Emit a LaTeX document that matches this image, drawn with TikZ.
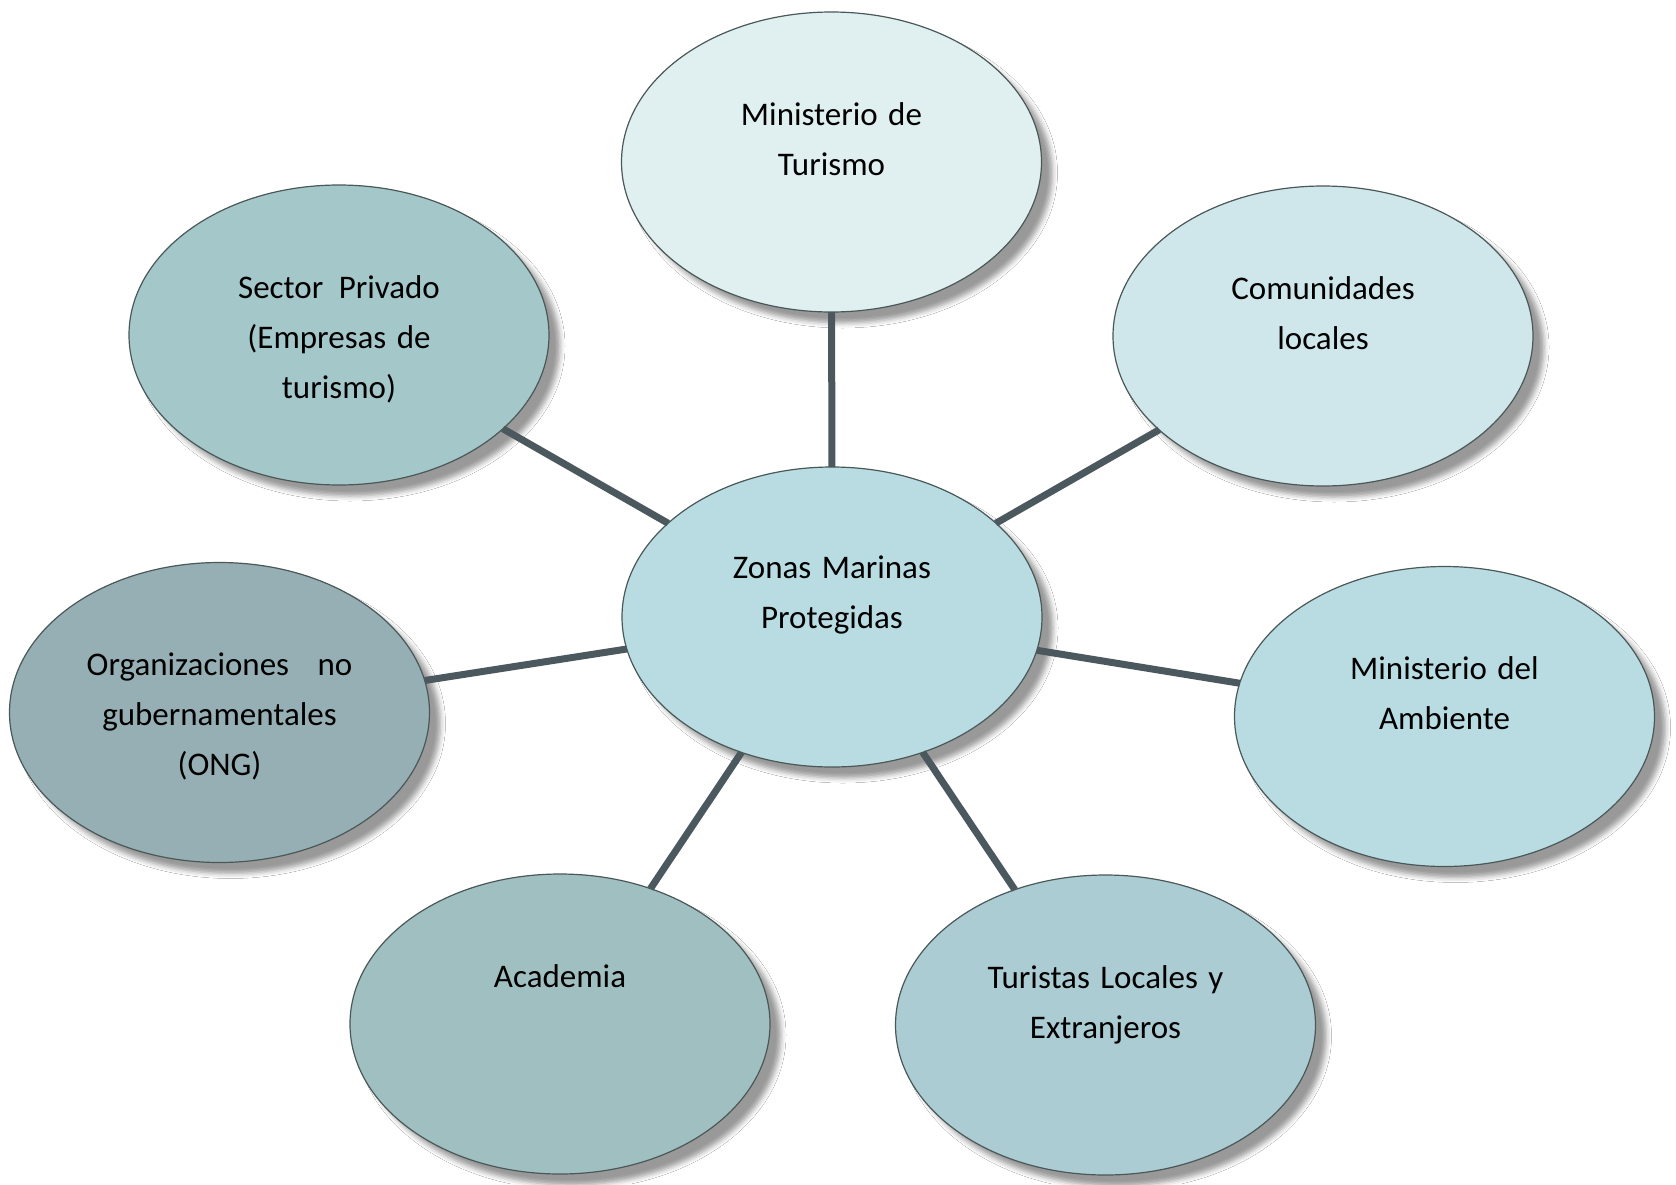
\documentclass[tikz,border=0pt]{standalone}
\usepackage{fontspec}
\setmainfont{Carlito}[WordSpace=1.4]
\usetikzlibrary{shapes.geometric,shadows.blur}
\definecolor{edgec}{HTML}{4A5858}
\definecolor{linkc}{HTML}{4B585E}
\definecolor{cmt}{HTML}{E0F0F1}
\definecolor{ccl}{HTML}{CFE6EB}
\definecolor{czmp}{HTML}{B8DCE2}
\definecolor{cma}{HTML}{B8DCE2}
\definecolor{ctu}{HTML}{AACCD2}
\definecolor{csp}{HTML}{A4C7C9}
\definecolor{cac}{HTML}{A0BFC0}
\definecolor{cong}{HTML}{95AFB4}
\tikzset{
  bubble/.style={ellipse, draw=edgec, line width=1.2pt, minimum width=420pt,
    minimum height=300pt, inner sep=0pt, outer sep=0pt,
    blur shadow={shadow xshift=11pt, shadow yshift=-11pt, shadow blur radius=5pt, shadow opacity=40}},
  lbl/.style={anchor=north, align=center, inner sep=0pt, text=black,
    font=\fontsize{33}{50}\selectfont},
  link/.style={draw=linkc, line width=7pt}
}
\begin{document}
\begin{tikzpicture}[x=1pt,y=-1pt]
\useasboundingbox (0,0) rectangle (1676,1184);
\fill[white] (0,0) rectangle (1676,1184);
\node[bubble, fill=cmt]  (mt)  at (831.5,162) {};
\node[bubble, fill=csp]  (sp)  at (339,335) {};
\node[bubble, fill=ccl]  (cl)  at (1323,336) {};
\node[bubble, fill=cong] (ong) at (219.5,712.5) {};
\node[bubble, fill=cma]  (ma)  at (1444.5,716.5) {};
\node[bubble, fill=cac]  (ac)  at (560,1024) {};
\node[bubble, fill=ctu]  (tu)  at (1105.5,1025) {};
\node[bubble, fill=czmp] (zmp) at (832,617) {};
\draw[link] (zmp) -- (mt);
\draw[link] (zmp) -- (sp);
\draw[link] (zmp) -- (cl);
\draw[link] (zmp) -- (ong);
\draw[link] (zmp) -- (ma);
\draw[link] (zmp) -- (ac);
\draw[link] (zmp) -- (tu);
\node[lbl] (tmt)  at ([yshift=72pt]mt.center)  {\strut Ministerio de\\Turismo};
\node[lbl] (tsp)  at ([yshift=72pt]sp.center)  {\strut Sector\hspace{5pt} Privado\\(Empresas de\\turismo)};
\node[lbl] (tcl)  at ([yshift=72pt]cl.center)  {\strut Comunidades\\locales};
\node[lbl] (tong) at ([yshift=72pt]ong.center) {\strut Organizaciones\hspace{18pt} no\\gubernamentales\\(ONG)};
\node[lbl] (tma)  at ([yshift=72pt]ma.center)  {\strut Ministerio del\\Ambiente};
\node[lbl] (tac)  at ([yshift=72pt]ac.center)  {\strut Academia};
\node[lbl] (ttu)  at ([yshift=72pt]tu.center)  {\strut Turistas Locales y\\Extranjeros};
\node[lbl] (tzmp) at ([yshift=74pt]zmp.center) {\strut Zonas Marinas\\Protegidas};
\end{tikzpicture}
\end{document}
